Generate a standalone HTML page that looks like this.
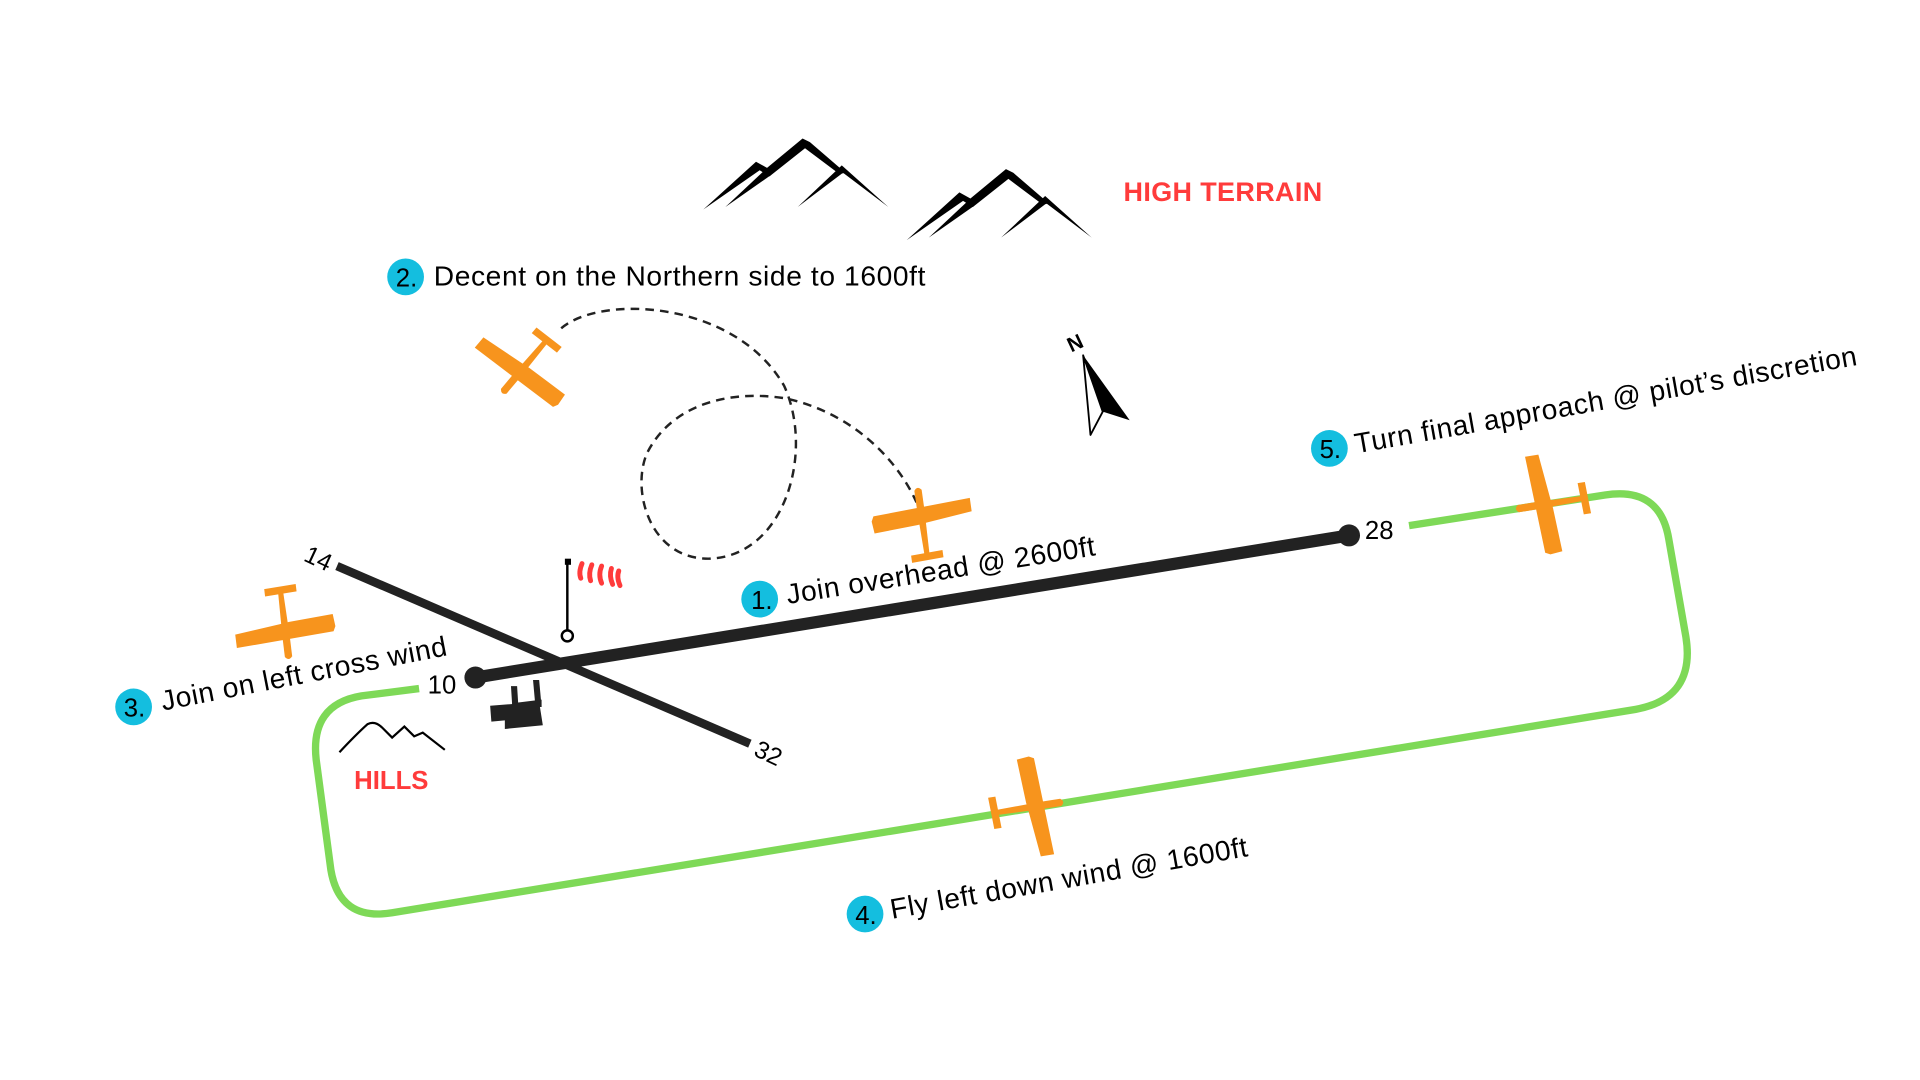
<!DOCTYPE html>
<html><head><meta charset="utf-8"><style>
html,body{margin:0;padding:0;background:#fff;width:1920px;height:1080px;overflow:hidden}
svg{display:block}
text{font-family:"Liberation Sans",sans-serif}
.lbl{font-size:23px;letter-spacing:0.5px}
</style></head><body>
<svg width="1920" height="1080" viewBox="0 0 1567 881.5" xmlns="http://www.w3.org/2000/svg">
<defs>
<g id="plane" fill="#F7941D">
  <path d="M-3,-20 Q0,-24 3,-20 L3,-4 L2,36 L-2,36 L-3,-4 Z"/>
  <path d="M-41,0 L-39,-4 L41,-8 L41,3 L4,7 L-4,8 L-40,10 Z"/>
  <path d="M-13,32 L13,31 L13,37 L-13,38 Z"/>
</g>
<g id="mtn" fill="#000">
  <path d="M574,171 L617,132 L626,137 L655,113 L661,116 L690,141 L685,142 L657,121 L628,144 L620,139 Z"/>
  <path d="M592,169 L625,138 L629,143 Z"/>
  <path d="M651,169 L687,135 L725,169 L688,141 Z"/>
</g>
</defs>

<use href="#mtn"/>
<use href="#mtn" transform="translate(166,25)"/>
<text x="917" y="164" font-size="22" font-weight="bold" fill="#FF3B3B" letter-spacing="0.3">HIGH TERRAIN</text>

<!-- north arrow -->
<text x="871" y="285" font-size="17" font-weight="bold" transform="rotate(-25 879 279)">N</text>
<path d="M884,290 L922,343 L900,336 Z" fill="#000"/>
<path d="M884,290 L900,336 L890,355 Z" fill="#fff" stroke="#000" stroke-width="1.5" stroke-linejoin="round"/>

<!-- label 2 -->
<circle cx="331" cy="226" r="15" fill="#14BEDF"/>
<text x="323" y="234" font-size="21">2.</text>
<text x="354" y="233" class="lbl">Decent on the Northern side to 1600ft</text>

<!-- dashed path -->
<path d="M458,268 C490,240 600,245 640,315 C665,370 640,455 578,456 C530,456 515,400 528,370 C548,330 595,318 640,325 C690,335 730,370 748,410" fill="none" stroke="#222" stroke-width="2" stroke-dasharray="7,5"/>

<!-- green circuit -->
<path d="M1150,429 L1310,404 Q1355,397 1362,440 L1376,520 Q1384,570 1335,579 L320,745 Q277,752 270,710 L258,620 Q253,575 295,568 L342,562" fill="none" stroke="#7ED957" stroke-width="6"/>

<!-- runways -->
<line x1="275" y1="462" x2="612" y2="607" stroke="#222" stroke-width="7"/>
<line x1="388" y1="553" x2="1101" y2="437" stroke="#222" stroke-width="10"/>
<circle cx="388" cy="553" r="9" fill="#222"/>
<circle cx="1101" cy="437" r="9" fill="#222"/>
<text x="248" y="462" font-size="20" transform="rotate(25 258 457)">14</text>
<text x="616" y="622" font-size="20" transform="rotate(25 628 615)">32</text>
<text x="349" y="566" font-size="21">10</text>
<text x="1114" y="440" font-size="21">28</text>

<!-- building -->
<g fill="#222">
  <path d="M417,560 L422,560 L423,576 L418,576 Z"/>
  <path d="M435,555 L440,555 L442,577 L437,577 Z"/>
  <path d="M418,574 L442,571 L442,577 L418,579 Z"/>
  <path d="M400,576 L440,573 L443,592 L412,595 L412,588 L401,589 Z"/>
</g>

<!-- windsock -->
<line x1="463" y1="457" x2="463" y2="514" stroke="#000" stroke-width="2"/>
<rect x="461" y="456" width="5" height="5" fill="#000"/>
<circle cx="463" cy="519" r="4.5" fill="none" stroke="#000" stroke-width="2"/>
<g fill="none" stroke="#FF3B3B" stroke-width="4" stroke-linecap="round">
  <path d="M475,460 Q472,467 474,472"/>
  <path d="M483,461 Q480,468 482,474"/>
  <path d="M491,462 Q488,469 491,476"/>
  <path d="M499,464 Q497,470 500,477"/>
  <path d="M505,466 Q503,471 506,478"/>
</g>

<!-- planes -->
<use href="#plane" transform="translate(424,304) rotate(-140)"/>
<use href="#plane" transform="translate(752,420) rotate(-8)"/>
<use href="#plane" transform="translate(233,516) rotate(173)"/>
<use href="#plane" transform="translate(846,658) rotate(81)"/>
<use href="#plane" transform="translate(1259,412) rotate(-99)"/>

<!-- label 1 -->
<circle cx="620" cy="489" r="15" fill="#14BEDF"/>
<text x="613" y="497" font-size="21">1.</text>
<text x="643" y="493" class="lbl" transform="rotate(-9 643 493)">Join overhead @ 2600ft</text>

<!-- label 3 -->
<circle cx="109" cy="577" r="15" fill="#14BEDF"/>
<text x="101" y="585" font-size="21">3.</text>
<text x="133" y="580" class="lbl" transform="rotate(-11 133 580)">Join on left cross wind</text>

<!-- hills -->
<path d="M277,614 Q290,600 300,591 Q306,588 312,594 L320,602 L330,593 L338,601 L345,598 L363,612" fill="none" stroke="#000" stroke-width="1.8"/>
<text x="289" y="644" font-size="21" font-weight="bold" fill="#FF3B3B">HILLS</text>

<!-- label 4 -->
<circle cx="706" cy="746" r="15" fill="#14BEDF"/>
<text x="698" y="754" font-size="21">4.</text>
<text x="728" y="750" class="lbl" transform="rotate(-10 728 750)">Fly left down wind @ 1600ft</text>

<!-- label 5 -->
<circle cx="1085" cy="366" r="15" fill="#14BEDF"/>
<text x="1077" y="374" font-size="21">5.</text>
<text x="1107" y="370" class="lbl" transform="rotate(-10 1107 370)">Turn final approach @ pilot’s discretion</text>
</svg>
</body></html>
